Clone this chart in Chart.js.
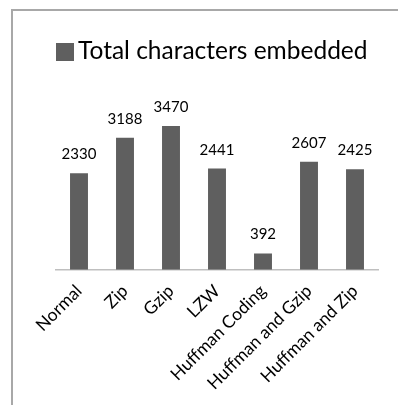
<!DOCTYPE html>
<html><head><meta charset="utf-8">
<script src="https://cdn.jsdelivr.net/npm/chart.js@4"></script>
<style>
html,body{margin:0;padding:0;background:#fff;}
#wrap{position:relative;width:398px;height:405px;overflow:hidden;}
#frame{position:absolute;left:11px;top:9px;width:500px;height:500px;border-left:2px solid #a8a8a8;border-top:2px solid #a8a8a8;box-sizing:border-box;}
canvas{position:absolute;left:0;top:0;}
</style></head>
<body><div id="wrap"><div id="frame"></div><canvas id="c" width="398" height="405"></canvas></div>
<script>
const categories = ["Normal","Zip","Gzip","LZW","Huffman Coding","Huffman and Gzip","Huffman and Zip"];
const seriesName = "Total characters embedded";
const totalChars = [2330,3188,3470,2441,392,2607,2425];
const yMax = 4000;

const FONT = "Lato, 'Open Sans', sans-serif";
const BAR = "#5f5f5f";

const valueLabels = {
  id:'valueLabels',
  afterDatasetsDraw(chart){
    const ctx = chart.ctx;
    const meta = chart.getDatasetMeta(0);
    ctx.save();
    ctx.font = "15px " + FONT;
    ctx.fillStyle = "#000";
    ctx.textAlign = "center";
    ctx.textBaseline = "alphabetic";
    meta.data.forEach((bar,i)=>{
      ctx.fillText(String(totalChars[i]), bar.x, bar.y - 14);
    });
    ctx.restore();
  }
};
const customLegend = {
  id:'customLegend',
  afterDraw(chart){
    const ctx = chart.ctx;
    const ds = chart.data.datasets[0];
    ctx.save();
    ctx.fillStyle = ds.backgroundColor;
    ctx.fillRect(56, 43, 18, 18);
    ctx.font = "24.5px " + FONT;
    ctx.fillStyle = "#000";
    ctx.textAlign = "left";
    ctx.textBaseline = "alphabetic";
    ctx.fillText(ds.label, 78, 59);
    ctx.restore();
  }
};

new Chart(document.getElementById('c'), {
  type:'bar',
  data:{ labels: categories, datasets:[{ label: seriesName, data: totalChars, backgroundColor: BAR, borderWidth:0, barPercentage:0.78, categoryPercentage:0.5 }]},
  options:{
    responsive:false, animation:false, devicePixelRatio:1,
    layout:{ padding:{ left:56, right:20, top:104, bottom:0 } },
    plugins:{
      legend:{ display:false },
      tooltip:{ enabled:false }
    },
    scales:{
      x:{
        grid:{ display:false, drawTicks:false },
        border:{ display:true, color:'#bfbfbf', width:1.5 },
        ticks:{ color:'#000', font:{ family:FONT, size:17.5 }, minRotation:45, maxRotation:45, padding:11 }
      },
      y:{ display:false, min:0, max:yMax }
    }
  },
  plugins:[valueLabels, customLegend]
});
</script></body></html>
